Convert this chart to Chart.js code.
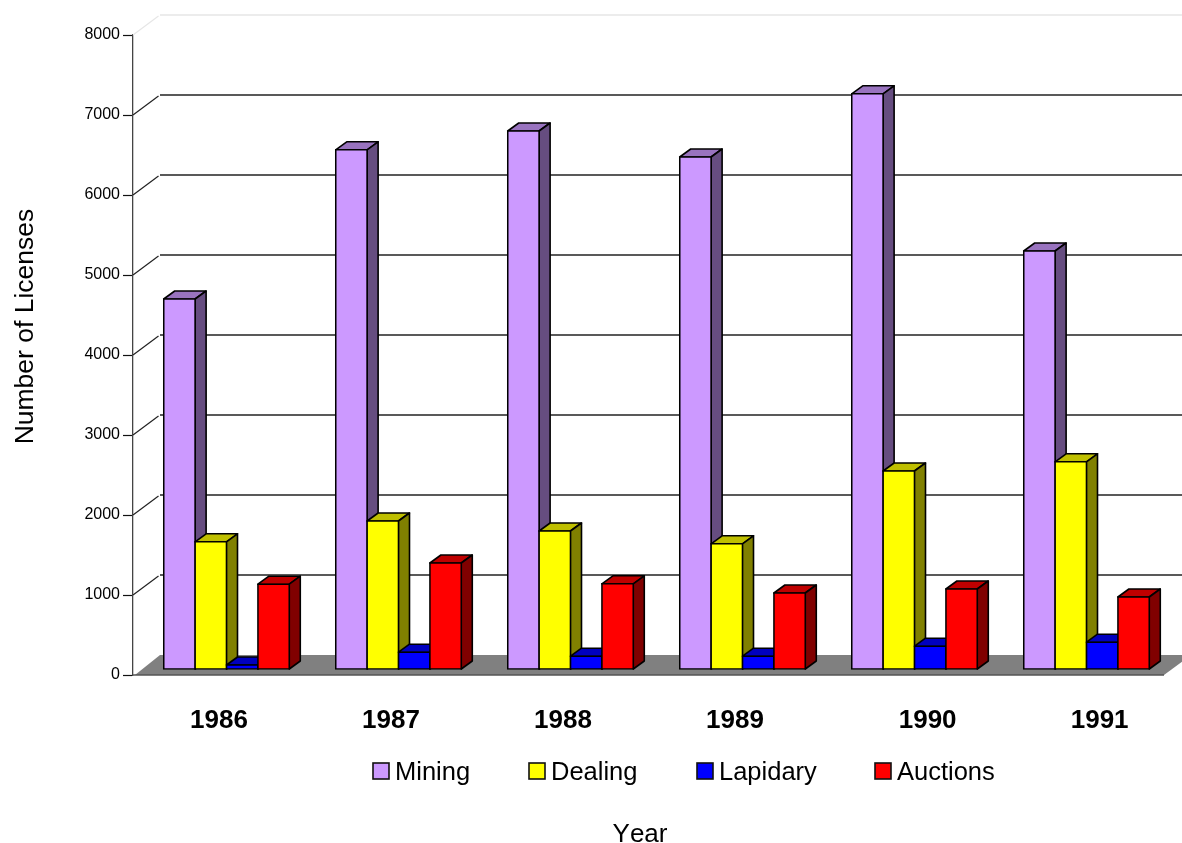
<!DOCTYPE html>
<html>
<head>
<meta charset="utf-8">
<style>html,body{margin:0;padding:0;background:#fff}canvas{display:block}</style>
<script src="https://cdn.jsdelivr.net/npm/chart.js@4"></script>
</head>
<body>
<canvas id="c" width="1182" height="843"></canvas>
<script>
const years = ['1986','1987','1988','1989','1990','1991'];
const mining = [4625,6490,6725,6400,7190,5225];
const dealing = [1590,1850,1725,1565,2475,2590];
const lapidary = [50,210,160,160,285,335];
const auctions = [1060,1325,1065,950,1000,900];
const seriesNames = ['Mining','Dealing','Lapidary','Auctions'];
const frontColors = ['#CC99FF','#FFFF00','#0000FF','#FF0000'];
const topColors = ['#9973BF','#BFBF00','#0000BF','#BF0000'];
const sideColors = ['#664D80','#808000','#000080','#800000'];
const legendBoxX = [373,529,697,875];
const labelPositions = [0,1,2,3,4.12,5.12];
const FONT = '"Liberation Sans", Arial, sans-serif';
const DX = 27, DY = 20, BDX = 11, BDY = 8;

function poly(ctx, pts, fill, stroke, lw){
  ctx.beginPath();
  pts.forEach((p,i)=> i?ctx.lineTo(p[0],p[1]):ctx.moveTo(p[0],p[1]));
  ctx.closePath();
  if(fill){ctx.fillStyle=fill;ctx.fill();}
  if(stroke){ctx.strokeStyle=stroke;ctx.lineWidth=lw;ctx.lineJoin='round';ctx.stroke();}
}
function seg(ctx,x0,y0,x1,y1,color,lw){
  ctx.beginPath();ctx.moveTo(x0,y0);ctx.lineTo(x1,y1);
  ctx.strokeStyle=color;ctx.lineWidth=lw;ctx.stroke();
}

const scene3d = {
  id:'scene3d',
  afterLayout(chart){
    const x = chart.scales.x;
    x.left += 7.5; x.right += 7.5; x.configure();
  },
  beforeDatasetsDraw(chart){
    const ctx = chart.ctx, y = chart.scales.y, a = chart.chartArea;
    ctx.save();
    const y0 = y.getPixelForValue(0);
    poly(ctx,[[a.left+2,y0],[a.right-1,y0],[a.right-1+DX,y0-DY],[a.left+DX,y0-DY]],'#808080');
    seg(ctx,a.left,y0,a.right-1,y0,'#555',1.3);
    y.ticks.forEach(t=>{
      if(t.value===0) return;
      const py = y.getPixelForValue(t.value);
      const col = t.value===8000 ? '#e6e6e6' : '#222';
      seg(ctx,a.left,py,a.left+DX-1.5,py-DY+1,col,1.2);
      seg(ctx,a.left+DX,py-DY,chart.width,py-DY,col,1.3);
    });
    chart.data.datasets.forEach((ds,i)=>{
      const meta = chart.getDatasetMeta(i);
      meta.data.forEach(el=>{
        const p = el.getProps(['x','y','base','width'],true);
        const l=p.x-p.width/2, r=p.x+p.width/2, t=p.y, b=p.base;
        poly(ctx,[[l,t],[r,t],[r+BDX,t-BDY],[l+BDX,t-BDY]],topColors[i],'#000',1.6);
        poly(ctx,[[r,t],[r+BDX,t-BDY],[r+BDX,b-BDY],[r,b]],sideColors[i],'#000',1.6);
      });
      meta.controller.draw();
    });
    ctx.restore();
    return false;
  },
  afterDraw(chart){
    const ctx = chart.ctx;
    ctx.save();
    ctx.fontKerning='none';
    ctx.fillStyle='#000';
    ctx.textBaseline='middle';
    ctx.font='25.5px '+FONT;
    ctx.textAlign='left';
    seriesNames.forEach((n,i)=>{
      ctx.fillStyle=frontColors[i];
      ctx.fillRect(legendBoxX[i],763,16,16);
      ctx.strokeStyle='#111';ctx.lineWidth=1.6;
      ctx.strokeRect(legendBoxX[i],763,16,16);
      ctx.fillStyle='#000';
      ctx.fillText(n,legendBoxX[i]+22,772.5);
    });
    ctx.font='26px '+FONT;
    ctx.textAlign='center';
    ctx.fillText('Year',640,834.5);
    ctx.font='26.5px '+FONT;
    ctx.translate(26,326.5);
    ctx.rotate(-Math.PI/2);
    ctx.fillText('Number of Licenses',0,0);
    ctx.restore();
  }
};

new Chart(document.getElementById('c'),{
  type:'bar',
  data:{
    labels:years,
    datasets:[mining,dealing,lapidary,auctions].map((d,i)=>({
      label:seriesNames[i],data:d,backgroundColor:frontColors[i],
      borderColor:'#000',borderWidth:1.6,inflateAmount:0.8,borderSkipped:false,xAxisID:'x',yAxisID:'yBar',
      barPercentage:1,categoryPercentage:0.73
    }))
  },
  options:{
    responsive:false,animation:false,devicePixelRatio:1,
    layout:{padding:{top:35,right:17,left:0,bottom:0}},
    plugins:{legend:{display:false},tooltip:{enabled:false}},
    scales:{
      x:{type:'category',display:false,offset:true},
      yBar:{type:'linear',display:false,min:-75,max:7925},
      y:{type:'linear',position:'left',min:0,max:8000,
        ticks:{stepSize:1000,color:'#000',padding:3,font:{family:FONT,size:16},callback(v){return String(v);}},
        grid:{drawOnChartArea:false,drawTicks:true,tickLength:10,tickColor:'#111',tickWidth:1.2},
        border:{display:true,color:'#444',width:1.3},
        afterFit(s){s.width=133;}
      },
      xLabels:{type:'linear',position:'bottom',min:-0.5,max:5.5,offset:false,
        grid:{display:false,offset:false},border:{display:false},
        afterBuildTicks(s){s.ticks=labelPositions.map(v=>({value:v}));},
        ticks:{autoSkip:false,maxRotation:0,minRotation:0,padding:22,color:'#000',
          font:{family:FONT,size:26,weight:'bold'},
          callback(v,i){return years[i];}},
        afterFit(s){s.height=168;}
      }
    }
  },
  plugins:[scene3d]
});
</script>
</body>
</html>
